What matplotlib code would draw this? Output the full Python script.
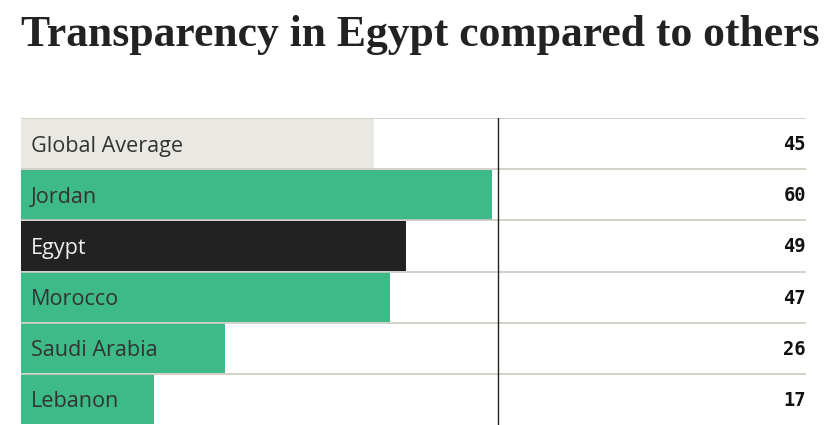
import numpy as np
import matplotlib.pyplot as plt

countries = ["Global Average", "Jordan", "Egypt", "Morocco", "Saudi Arabia", "Lebanon"]
scores = [45, 60, 49, 47, 26, 17]
bar_colors = ["#eae8e3", "#3dba88", "#222222", "#3dba88", "#3dba88", "#3dba88"]
label_colors = ["#333333", "#333333", "#eeeeee", "#333333", "#333333", "#333333"]
ref_line = 60.8

fig = plt.figure(figsize=(8.32, 4.25), dpi=100)
ax = fig.add_axes([21 / 832, 0, 785 / 832, 307 / 425])

y = np.arange(len(countries))
ax.barh(y, scores, height=0.98, color=bar_colors, zorder=1)
ax.set_xlim(0, 100)
ax.set_ylim(len(countries) - 0.5, -0.5)

for b in np.arange(len(countries)) - 0.5:
    ax.axhline(b, color="#cdcac0", lw=1.2, zorder=2)
ax.axvline(ref_line, color="#222222", lw=1, zorder=3)

for i, (name, val) in enumerate(zip(countries, scores)):
    ax.text(1.3, i + 0.05, name, va="center", ha="left", fontsize=15.6,
            family="Open Sans", color=label_colors[i], zorder=4)
    ax.text(100, i + 0.02, str(val), va="center", ha="right", fontsize=13.5,
            family="DejaVu Sans Mono", fontweight="bold", color="#111111", zorder=4)

ax.axis("off")

fig.text(21 / 832, 1 - 35 / 425, "Transparency in Egypt compared to others",
         fontsize=31.4, family="Liberation Serif", fontweight="bold",
         color="#222222", va="center", ha="left")

fig.savefig("out.png", dpi=100)
